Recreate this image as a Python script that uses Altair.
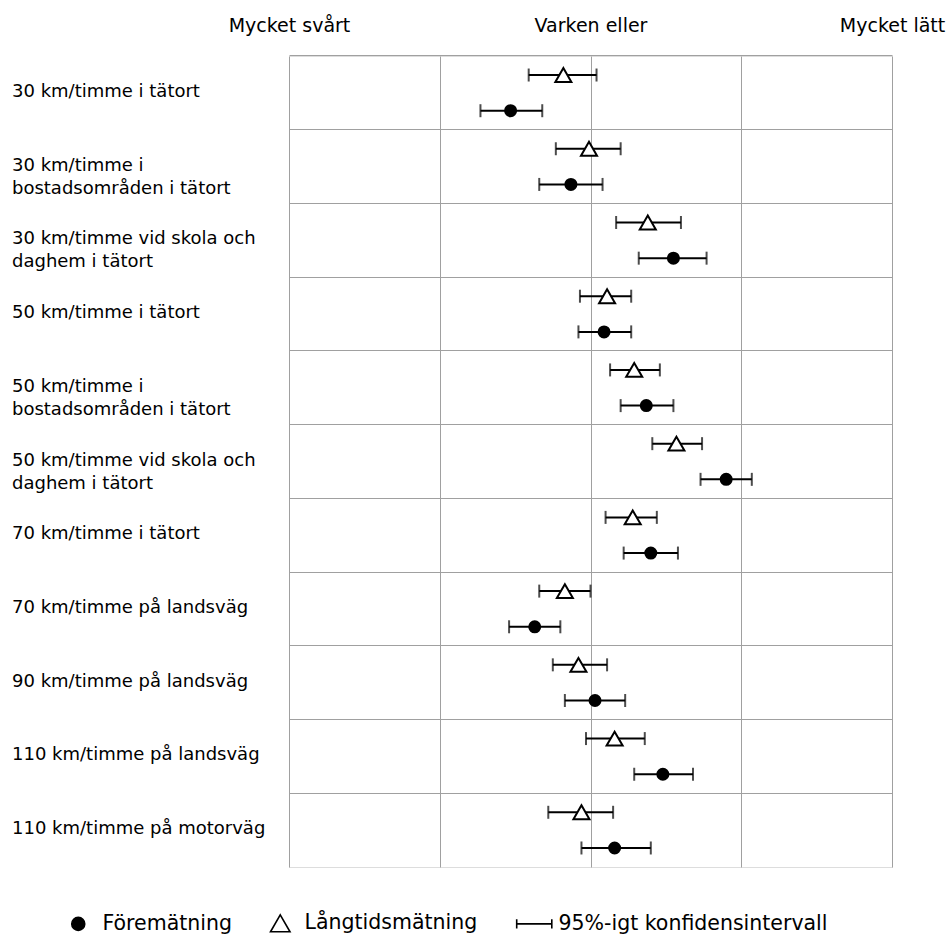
import altair as alt
import pandas as pd

# Road-type categories (rows), top to bottom
categories = [
    "30 km/timme i tätort",
    "30 km/timme i\nbostadsområden i tätort",
    "30 km/timme vid skola och\ndaghem i tätort",
    "50 km/timme i tätort",
    "50 km/timme i\nbostadsområden i tätort",
    "50 km/timme vid skola och\ndaghem i tätort",
    "70 km/timme i tätort",
    "70 km/timme på landsväg",
    "90 km/timme på landsväg",
    "110 km/timme på landsväg",
    "110 km/timme på motorväg",
]

SERIES_FORE = "Föremätning"
SERIES_LANG = "Långtidsmätning"
SERIES_CI = "95%-igt konfidensintervall"

# Föremätning: mean and 95% interval
fore_mean = [2.47, 2.87, 3.55, 3.09, 3.37, 3.90, 3.40, 2.63, 3.03, 3.48, 3.16]
fore_lo = [2.27, 2.66, 3.32, 2.92, 3.20, 3.73, 3.22, 2.46, 2.83, 3.29, 2.94]
fore_hi = [2.68, 3.08, 3.77, 3.27, 3.55, 4.07, 3.58, 2.80, 3.23, 3.68, 3.40]

# Långtidsmätning: mean and 95% interval
lang_mean = [2.82, 2.99, 3.38, 3.11, 3.29, 3.57, 3.28, 2.83, 2.92, 3.16, 2.94]
lang_lo = [2.59, 2.77, 3.17, 2.93, 3.13, 3.41, 3.10, 2.66, 2.75, 2.97, 2.72]
lang_hi = [3.04, 3.20, 3.60, 3.27, 3.46, 3.74, 3.44, 3.00, 3.11, 3.36, 3.15]

# Scale end points and their labels (1..5)
scale_ticks = [1, 2, 3, 4, 5]
scale_labels = {1: "Mycket svårt", 3: "Varken eller", 5: "Mycket lätt"}

rows = []
for i, cat in enumerate(categories):
    rows.append({"cat": cat, "series": SERIES_LANG, "mean": lang_mean[i], "lo": lang_lo[i], "hi": lang_hi[i]})
    rows.append({"cat": cat, "series": SERIES_FORE, "mean": fore_mean[i], "lo": fore_lo[i], "hi": fore_hi[i]})
df = pd.DataFrame(rows)
df["marker"] = df["series"]  # separate field so marker size stays out of the legend
labels_df = pd.DataFrame({"cat": categories})

FONT = "DejaVu Sans"
GRID = "#a0a0a0"

label_expr = " : ".join(
    f"datum.value == {k} ? '{v}'" for k, v in scale_labels.items()
) + " : ''"

x_axis = alt.Axis(
    orient="top", values=scale_ticks, labelExpr=label_expr, ticks=False, tickSize=0,
    domain=False, title=None, grid=True, gridColor=GRID, gridWidth=1,
    labelFontSize=19, labelFont=FONT, labelColor="black", labelPadding=21,
    labelFlush=False, labelOverlap=False, labelBound=False,
)
x_scale = alt.Scale(domain=[1, 5], nice=False, zero=False)

y_enc = alt.Y(
    "cat:N", sort=categories,
    scale=alt.Scale(domain=categories, paddingInner=0, paddingOuter=0),
    axis=alt.Axis(labels=False, ticks=False, domain=False, title=None, grid=True,
                  gridColor=GRID, gridWidth=1, bandPosition=0),
)
y_off = alt.YOffset(
    "series:N",
    scale=alt.Scale(domain=[SERIES_LANG, SERIES_FORE], paddingInner=0, paddingOuter=0.033),
)

# Symbol shapes: filled circle, open triangle, and an interval bar for the legend
legend_domain = [SERIES_FORE, SERIES_LANG, SERIES_CI]
tri_path = "M0,-1.3L1.5,1.3L-1.5,1.3Z"
ci_path = "M-2.7,-0.7L-2.7,0.7M-2.7,0L2.7,0M2.7,-0.7L2.7,0.7"

legend = alt.Legend(
    title=None, orient="none", legendX=-221, legendY=857, direction="horizontal",
    columnPadding=35, labelOffset=14, labelFontSize=20.5, labelFont=FONT,
    labelColor="black", symbolSize=169, symbolStrokeColor="black",
    symbolStrokeWidth=1.6, padding=0, labelLimit=400, symbolOpacity=1,
)

base = alt.Chart(df).encode(y=y_enc, yOffset=y_off)

ci_line = base.mark_rule(color="black", strokeWidth=2).encode(
    x=alt.X("lo:Q", scale=x_scale, axis=x_axis), x2="hi:Q"
)
ci_lo = base.mark_tick(color="black", orient="vertical", size=13, thickness=2).encode(
    x=alt.X("lo:Q", scale=x_scale, axis=x_axis)
)
ci_hi = base.mark_tick(color="black", orient="vertical", size=13, thickness=2).encode(
    x=alt.X("hi:Q", scale=x_scale, axis=x_axis)
)
points = base.mark_point(filled=True, strokeWidth=2, opacity=1).encode(
    x=alt.X("mean:Q", scale=x_scale, axis=x_axis),
    shape=alt.Shape("series:N", scale=alt.Scale(domain=legend_domain,
                    range=["circle", tri_path, ci_path]), legend=legend),
    fill=alt.Fill("series:N", scale=alt.Scale(domain=legend_domain,
                  range=["black", "white", "transparent"]), legend=legend),
    stroke=alt.Stroke("series:N", scale=alt.Scale(domain=legend_domain,
                      range=["black", "black", "black"]), legend=legend),
    size=alt.Size("marker:N", scale=alt.Scale(type="ordinal", domain=[SERIES_FORE, SERIES_LANG],
                  range=[121, 114]), legend=None),
)

row_labels = alt.Chart(labels_df).mark_text(
    align="left", baseline="top", dy=-10, lineBreak="\n", fontSize=18,
    lineHeight=23, font=FONT, color="black",
).encode(y=alt.Y("cat:N", sort=categories), x=alt.value(-277), text="cat:N")

chart = alt.layer(ci_line, ci_lo, ci_hi, points, row_labels).properties(
    width=603, height=811,
    padding={"left": 289, "top": 56, "right": 54, "bottom": 70},
    autosize="none",
).configure_view(stroke="#888888", strokeWidth=2).configure(font=FONT)

chart.save("out.html", embed_options={"renderer": "svg", "actions": False})
